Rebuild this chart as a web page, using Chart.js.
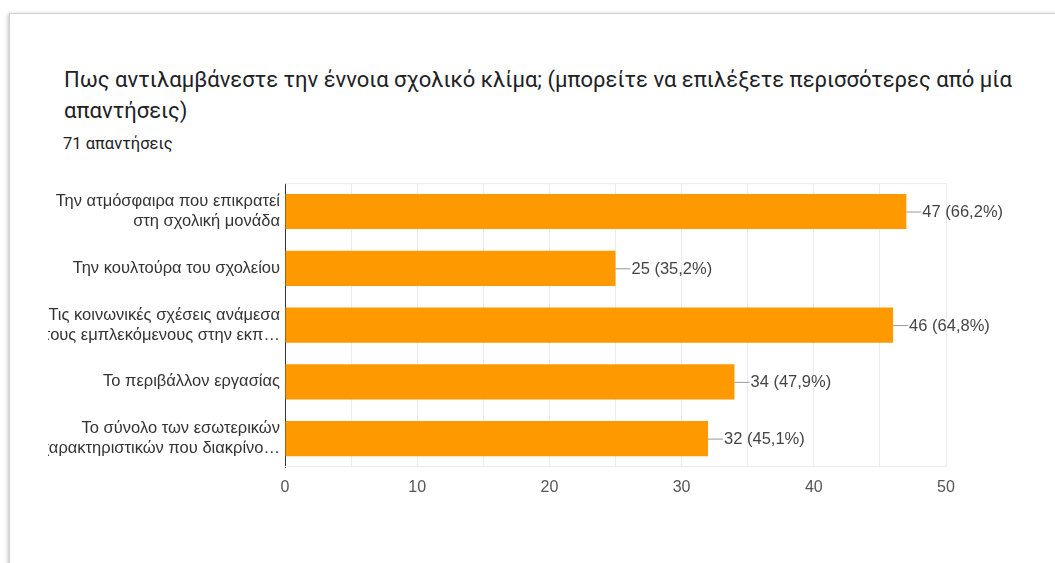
<!DOCTYPE html>
<html lang="el">
<head>
<meta charset="utf-8">
<title>Σχολικό κλίμα</title>
<script src="https://cdn.jsdelivr.net/npm/chart.js@4.4.0/dist/chart.umd.min.js"></script>
<style>
    html, body {
        margin: 0;
        padding: 0;
        width: 1055px;
        height: 563px;
        overflow: hidden;
        background: #fff;
    }
    .card {
        position: absolute;
        left: 9px;
        top: 13px;
        width: 1100px;
        height: 600px;
        border: 1px solid #cfcfcf;
        box-shadow: -1px 1px 4px rgba(0, 0, 0, 0.25);
        background: #fff;
    }
    .title {
        position: absolute;
        left: 64px;
        top: 64px;
        font-family: Roboto, "Noto Sans", sans-serif;
        font-size: 22px;
        line-height: 31px;
        color: #202124;
        white-space: nowrap;
    }
    .subtitle {
        position: absolute;
        left: 63px;
        top: 134px;
        font-family: Roboto, "Noto Sans", sans-serif;
        font-size: 16.5px;
        color: #202124;
    }
    .chart-box {
        position: absolute;
        left: 48px;
        top: 158px;
        width: 1007px;
        height: 352px;
    }
</style>
</head>
<body>
<div class="card"></div>
<div class="title">Πως αντιλαμβάνεστε την έννοια σχολικό κλίμα; (μπορείτε να επιλέξετε περισσότερες από μία<br>απαντήσεις)</div>
<div class="subtitle">71 απαντήσεις</div>
<div class="chart-box"><canvas id="climateChart"></canvas></div>

<script>
// categories (labels are cut on the left, as in the original form summary)
const categories = [
    ['Την ατμόσφαιρα που επικρατεί', 'στη σχολική μονάδα'],
    'Την κουλτούρα του σχολείου',
    ['Τις κοινωνικές σχέσεις ανάμεσα', 'τους εμπλεκόμενους στην εκπ…'],
    'Το περιβάλλον εργασίας',
    ['Το σύνολο των εσωτερικών', 'χαρακτηριστικών που διακρίνο…']
];
const responses = [47, 25, 46, 34, 32];
const percentLabels = ['66,2%', '35,2%', '64,8%', '47,9%', '45,1%'];
const xTicks = [0, 10, 20, 30, 40, 50];

const BAR_COLOR = '#ff9900';
const FONT = '"Liberation Sans", Arial, sans-serif';

// draws the small leader line and "n (p%)" text at the end of each bar
const barValueLabels = {
    id: 'barValueLabels',
    afterDatasetsDraw(chart) {
        const ctx = chart.ctx;
        const meta = chart.getDatasetMeta(0);
        ctx.save();
        ctx.font = '16.5px ' + FONT;
        ctx.textBaseline = 'middle';
        ctx.textAlign = 'left';
        meta.data.forEach(function(bar, i) {
            const x = bar.x;
            const y = bar.y;
            ctx.strokeStyle = '#999';
            ctx.lineWidth = 1;
            ctx.beginPath();
            ctx.moveTo(x, y + 0.5);
            ctx.lineTo(x + 15, y + 0.5);
            ctx.stroke();
            ctx.fillStyle = '#444';
            ctx.fillText(responses[i] + ' (' + percentLabels[i] + ')', x + 16, y + 1);
        });
        ctx.restore();
    }
};

function initChart() {
    const canvas = document.getElementById('climateChart');
    if (!canvas || typeof Chart === 'undefined') {
        console.warn('Chart.js or canvas missing');
        return;
    }

    new Chart(canvas, {
        type: 'bar',
        data: {
            labels: categories,
            datasets: [{
                data: responses,
                backgroundColor: BAR_COLOR,
                borderWidth: 0,
                barPercentage: 0.62,
                categoryPercentage: 1.0
            }]
        },
        options: {
            indexAxis: 'y',
            responsive: true,
            maintainAspectRatio: false,
            animation: false,
            layout: {
                padding: { top: 0, right: 109, bottom: 0, left: 0 }
            },
            plugins: {
                legend: { display: false },
                tooltip: { enabled: false }
            },
            scales: {
                x: {
                    min: 0,
                    max: 50,
                    afterBuildTicks(axis) {
                        // ticks every 5 for the light grid, only decades get text
                        const t = [];
                        for (let v = 0; v <= 50; v += 5) t.push({ value: v });
                        axis.ticks = t;
                    },
                    afterFit(axis) {
                        axis.height = 43;
                    },
                    grid: {
                        color: '#ececec',
                        drawTicks: false
                    },
                    border: { display: false },
                    ticks: {
                        padding: 11,
                        color: '#555',
                        font: { family: FONT, size: 16 },
                        callback(value) {
                            return xTicks.includes(value) ? value : '';
                        }
                    }
                },
                y: {
                    afterFit(axis) {
                        axis.width = 237;
                    },
                    grid: {
                        display: true,
                        drawOnChartArea: false,
                        drawTicks: false
                    },
                    border: {
                        display: true,
                        color: '#333',
                        width: 1
                    },
                    ticks: {
                        padding: 5,
                        color: '#333',
                        font: { family: FONT, size: 16.5, lineHeight: 1.22 }
                    }
                }
            }
        },
        plugins: [{
            id: 'plotFrame',
            beforeDatasetsDraw(chart) {
                const a = chart.chartArea;
                const ctx = chart.ctx;
                ctx.save();
                ctx.strokeStyle = '#ececec';
                ctx.lineWidth = 1;
                ctx.beginPath();
                ctx.moveTo(a.left, a.top + 0.5);
                ctx.lineTo(a.right, a.top + 0.5);
                ctx.moveTo(a.left, a.bottom - 0.5);
                ctx.lineTo(a.right, a.bottom - 0.5);
                ctx.stroke();
                ctx.restore();
            }
        }, barValueLabels]
    });
}

if (document.readyState === 'loading') {
    document.addEventListener('DOMContentLoaded', initChart);
} else {
    initChart();
}
</script>
</body>
</html>
